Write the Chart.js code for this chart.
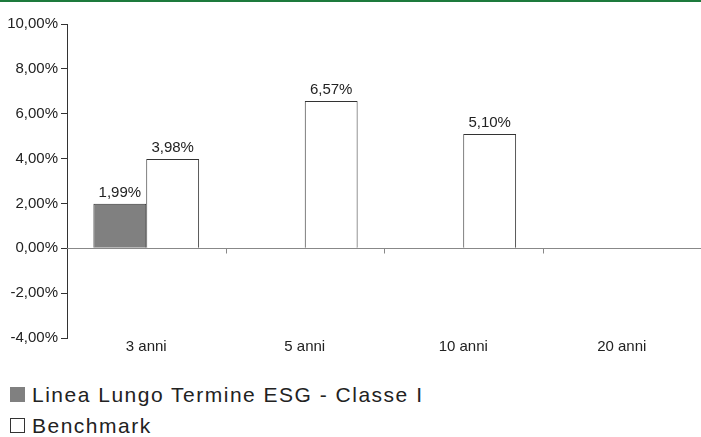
<!DOCTYPE html>
<html>
<head>
<meta charset="utf-8">
<title>Rendimenti medi annui</title>
<script src="https://cdn.jsdelivr.net/npm/chart.js"></script>
<style>
  html, body { margin: 0; padding: 0; background: #fff; }
  body { width: 701px; height: 437px; overflow: hidden; font-family: "Liberation Sans", Arial, sans-serif; color: #222; }
  .topline { height: 2px; background: #1d7a3c; }
  .wrap { position: relative; width: 701px; height: 356px; }
  .legend { padding-left: 10px; font-size: 21px; line-height: 31px; letter-spacing: 1.5px; margin-top: 21px; }
  .legend .sw { display: inline-block; width: 15px; height: 15px; margin-right: 7px; vertical-align: baseline; box-sizing: border-box; }
  .sw.fund { background: #808080; }
  .sw.bench { border: 1px solid #333; background: #fff; }
</style>
</head>
<body>
<div class="topline"></div>
<div class="wrap"><canvas id="chart"></canvas></div>
<div class="legend">
  <div><span class="sw fund"></span>Linea Lungo Termine ESG - Classe I</div>
  <div><span class="sw bench"></span>Benchmark</div>
</div>

<script>
// Periods and returns (%)
const periods = ['3 anni', '5 anni', '10 anni', '20 anni'];
const fundValues = [1.99, null, null, null];
const benchmarkValues = [3.98, 6.57, 5.10, null];
const seriesNames = ['Linea Lungo Termine ESG - Classe I', 'Benchmark'];

const FONT = '"Liberation Sans", Arial, sans-serif';
const fmt = v => v.toFixed(2).replace('.', ',') + '%';

// zero line + small separators between categories
const zeroLine = {
  id: 'zeroLine',
  beforeDatasetsDraw(chart) {
    const { ctx, chartArea, scales } = chart;
    const y0 = Math.round(scales.y.getPixelForValue(0)) + 0.5;
    ctx.save();
    ctx.strokeStyle = '#888';
    ctx.lineWidth = 1;
    ctx.beginPath();
    ctx.moveTo(chartArea.left, y0);
    ctx.lineTo(chartArea.right, y0);
    for (let i = 1; i < periods.length; i++) {
      const x = Math.round((scales.x.getPixelForValue(i - 1) + scales.x.getPixelForValue(i)) / 2) + 0.5;
      ctx.moveTo(x, y0);
      ctx.lineTo(x, y0 + 5);
    }
    ctx.stroke();
    ctx.restore();
  }
};

// value labels above the bars
const valueLabels = {
  id: 'valueLabels',
  afterDatasetsDraw(chart) {
    const { ctx } = chart;
    ctx.save();
    ctx.font = '15px ' + FONT;
    ctx.fillStyle = '#222';
    ctx.textAlign = 'center';
    ctx.textBaseline = 'alphabetic';
    chart.data.datasets.forEach((ds, i) => {
      chart.getDatasetMeta(i).data.forEach((bar, j) => {
        const v = ds.data[j];
        if (v === null || v === undefined) return;
        ctx.fillText(fmt(v), bar.x, bar.y - 7);
      });
    });
    ctx.restore();
  }
};

new Chart(document.getElementById('chart'), {
  type: 'bar',
  data: {
    labels: periods,
    datasets: [
      {
        label: seriesNames[0],
        data: fundValues,
        backgroundColor: '#808080',
        borderColor: '#333',
        borderWidth: 1
      },
      {
        label: seriesNames[1],
        data: benchmarkValues,
        backgroundColor: '#fff',
        borderColor: '#333',
        borderWidth: 1
      }
    ]
  },
  options: {
    responsive: true,
    maintainAspectRatio: false,
    animation: false,
    layout: { padding: { top: 22, right: 0, left: 0, bottom: 0 } },
    datasets: { bar: { categoryPercentage: 0.667, barPercentage: 1 } },
    plugins: {
      legend: { display: false },
      tooltip: { enabled: false }
    },
    scales: {
      x: {
        afterFit(scale) { scale.height = 20; },
        grid: { display: false, drawTicks: false },
        border: { display: false },
        ticks: {
          color: '#222',
          padding: 0,
          font: { family: FONT, size: 15 }
        }
      },
      y: {
        min: -4,
        max: 10,
        afterFit(scale) { scale.width = 67; },
        grid: { drawOnChartArea: false, drawTicks: true, tickLength: 6, color: '#333' },
        border: { color: '#333' },
        ticks: {
          stepSize: 2,
          padding: 3,
          color: '#222',
          font: { family: FONT, size: 15 },
          callback: v => fmt(v)
        }
      }
    }
  },
  plugins: [zeroLine, valueLabels]
});
</script>
</body>
</html>
